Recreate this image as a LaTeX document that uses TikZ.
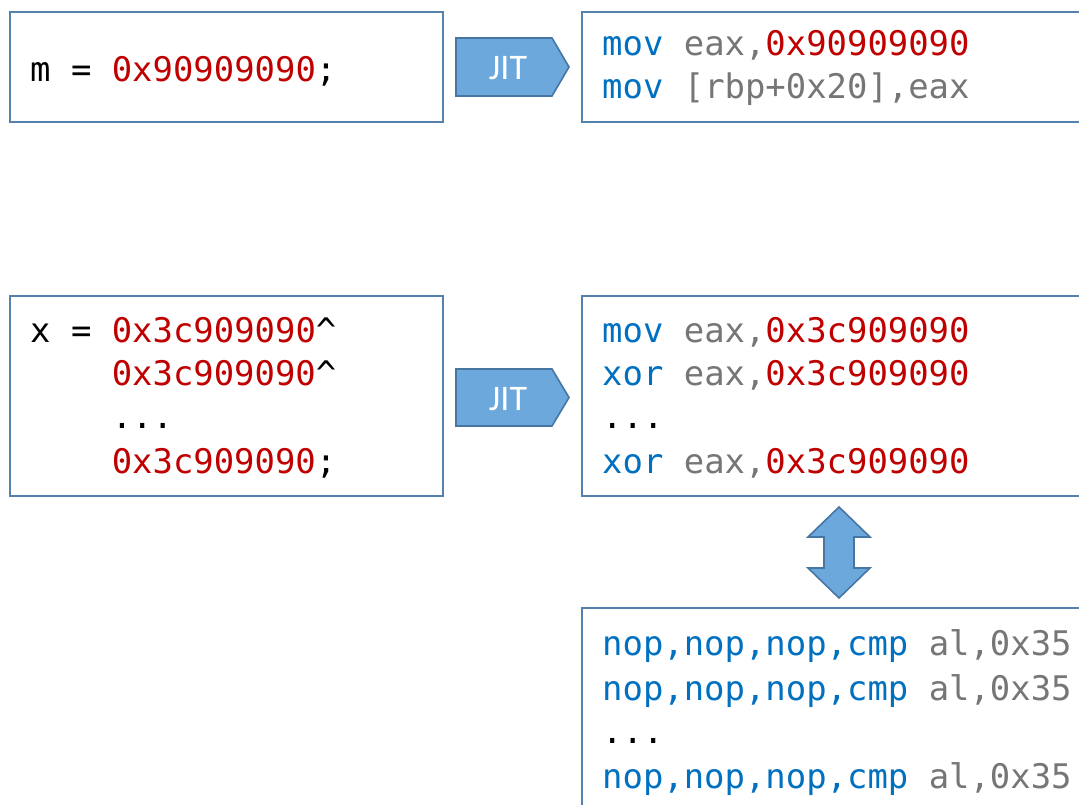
\documentclass[tikz,border=0pt]{standalone}
\usepackage{fontspec}
\setmainfont{Carlito}
\setmonofont{DejaVu Sans Mono}
\definecolor{kw}{HTML}{0070C0}
\definecolor{num}{HTML}{C00000}
\definecolor{gr}{HTML}{767676}
\definecolor{boxc}{RGB}{84,130,172}
\definecolor{arrfill}{RGB}{108,168,220}
\definecolor{arrline}{RGB}{70,118,162}
\newcommand{\K}[1]{\textcolor{kw}{#1}}
\newcommand{\N}[1]{\textcolor{num}{#1}}
\newcommand{\G}[1]{\textcolor{gr}{#1}}
\begin{document}
\begin{tikzpicture}[x=1pt,y=-1pt,
  box/.style={draw=boxc, line width=2.1pt, fill=white, inner sep=0pt, anchor=north west},
  code/.style={anchor=base west, inner sep=0pt, font=\ttfamily\fontsize{33.9}{40}\selectfont},
  jit/.style={fill=arrfill, draw=arrline, line width=1.6pt, line join=miter},
  jitlabel/.style={text=white, inner sep=0pt, font=\fontsize{36}{36}\selectfont}]
\useasboundingbox (0,0) rectangle (1079,805);
\fill[white] (0,0) rectangle (1079,805);
\begin{scope}
\clip (0,0) rectangle (1079,805);
\node[box, minimum width=433pt, minimum height=110pt] (b1) at (9,11) {};
\node[box, minimum width=530pt, minimum height=110pt] (b2) at (581,11) {};
\node[box, minimum width=433pt, minimum height=200pt] (b3) at (9,295) {};
\node[box, minimum width=530pt, minimum height=200pt] (b4) at (581,295) {};
\node[box, minimum width=530pt, minimum height=240pt] (b5) at (581,607) {};

\node[code] (t1) at (30,82) {m = \N{0x90909090};};
\node[code] (t2a) at (602,56) {\K{mov} \G{eax,}\N{0x90909090}};
\node[code] (t2b) at (602,99) {\K{mov} \G{[rbp+0x20],eax}};

\node[code] (t3a) at (30,342) {x = \N{0x3c909090}\textasciicircum};
\node[code] (t3b) at (111.6,385) {\N{0x3c909090}\textasciicircum};
\node[code] (t3c) at (111.6,428) {...};
\node[code] (t3d) at (111.6,473) {\N{0x3c909090};};

\node[code] (t4a) at (602,342) {\K{mov} \G{eax,}\N{0x3c909090}};
\node[code] (t4b) at (602,385) {\K{xor} \G{eax,}\N{0x3c909090}};
\node[code] (t4c) at (602,428) {...};
\node[code] (t4d) at (602,473) {\K{xor} \G{eax,}\N{0x3c909090}};

\node[code] (t5a) at (602,655) {\K{nop,nop,nop,cmp} \G{al,0x35}};
\node[code] (t5b) at (602,700) {\K{nop,nop,nop,cmp} \G{al,0x35}};
\node[code] (t5c) at (602,743) {...};
\node[code] (t5d) at (602,788) {\K{nop,nop,nop,cmp} \G{al,0x35}};
\end{scope}

\draw[jit] (456,38) -- (552,38) -- (569,67) -- (552,96) -- (456,96) -- cycle;
\node[jitlabel] (j1) at (508,68) {JIT};
\draw[jit] (456,369) -- (552,369) -- (569,397.5) -- (552,426) -- (456,426) -- cycle;
\node[jitlabel] (j2) at (508,399) {JIT};

\draw[jit] (839,507) -- (870,537) -- (854,537) -- (854,568) -- (870,568) -- (839,598)
  -- (808,568) -- (824,568) -- (824,537) -- (808,537) -- cycle;
\end{tikzpicture}
\end{document}
